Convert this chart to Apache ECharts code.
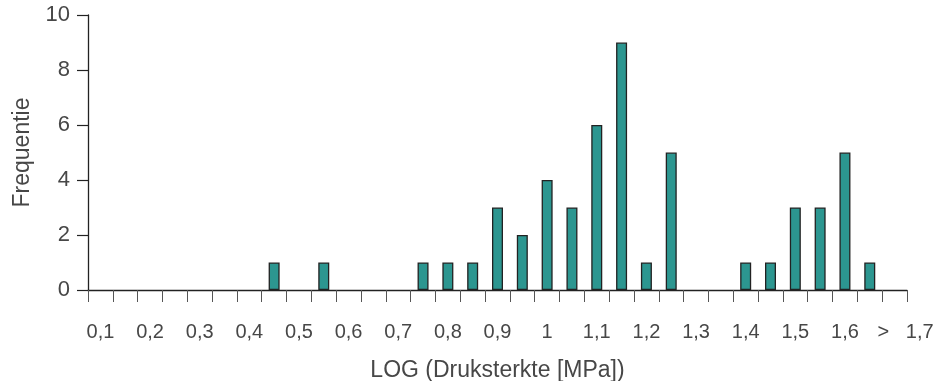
<!DOCTYPE html>
<html>
<head>
<meta charset="utf-8">
<script src="https://cdn.jsdelivr.net/npm/echarts@6/dist/echarts.min.js"></script>
<style>
    html, body { margin: 0; padding: 0; background: #fff; }
    #chart { width: 948px; height: 381px; }
</style>
</head>
<body>
<div id="chart"></div>
<script>
    // klassen van 0,05 (LOG druksterkte), laatste klasse is > 1,7
    var klassen = [
        '0,1','0,15','0,2','0,25','0,3','0,35','0,4','0,45','0,5','0,55','0,6',
        '0,65','0,7','0,75','0,8','0,85','0,9','0,95','1','1,05','1,1','1,15',
        '1,2','1,25','1,3','1,35','1,4','1,45','1,5','1,55','1,6','1,65','> 1,7'
    ];
    var frequentie = [
        0,0,0,0,0,0,0,1,0,1,0,
        0,0,1,1,1,3,2,4,3,6,9,
        1,5,0,0,1,1,3,3,5,1,0
    ];
    var yTicks = { min: 0, max: 10, interval: 2 };

    var fontFam = '"Liberation Sans", Arial, sans-serif';
    var txtColor = '#474747';
    var chart = echarts.init(document.getElementById('chart'), null, {
        renderer: 'canvas'
    });
    chart.setOption({
        animation: false,
        textStyle: {
            fontFamily: fontFam
        },
        grid: {
            left: 88,
            right: 41,
            top: 15,
            bottom: 91,
            outerBoundsMode: 'none'
        },
        xAxis: {
            type: 'category',
            data: klassen,
            name: 'LOG (Druksterkte [MPa])',
            nameLocation: 'middle',
            nameGap: 69,
            nameTextStyle: {
                fontSize: 23,
                color: txtColor,
                fontFamily: fontFam
            },
            axisLine: {
                lineStyle: { color: '#222', width: 1.3 }
            },
            axisTick: {
                show: true,
                interval: 0,
                length: 12,
                lineStyle: { color: '#555', width: 1 }
            },
            axisLabel: {
                interval: 1,
                margin: 32,
                fontSize: 20,
                color: txtColor,
                fontFamily: fontFam,
                formatter: function (v) {
                    if (v.charAt(0) === '>') {
                        return '{last|' + v.replace(' ', '   ') + '}';
                    }
                    return v;
                },
                rich: {
                    last: {
                        fontSize: 20,
                        color: txtColor,
                        fontFamily: fontFam,
                        padding: [0, 0, 0, 22]
                    }
                }
            },
            splitLine: { show: false }
        },
        yAxis: {
            type: 'value',
            min: yTicks.min,
            max: yTicks.max,
            interval: yTicks.interval,
            name: 'Frequentie',
            nameLocation: 'middle',
            nameGap: 53,
            nameTextStyle: {
                fontSize: 23,
                color: txtColor,
                fontFamily: fontFam
            },
            axisLine: {
                show: true,
                lineStyle: { color: '#222', width: 1.3 }
            },
            axisTick: {
                show: true,
                length: 11,
                lineStyle: { color: '#222', width: 1.2 }
            },
            axisLabel: {
                margin: 18,
                fontSize: 22,
                color: txtColor,
                fontFamily: fontFam
            },
            splitLine: { show: false }
        },
        series: [
            {
                name: 'Frequentie',
                type: 'bar',
                barWidth: 11,
                // lege klassen niet tekenen
                data: frequentie.map(function (v) { return v === 0 ? '-' : v; }),
                itemStyle: {
                    color: '#2c9690',
                    borderColor: '#222',
                    borderWidth: 1.3
                }
            }
        ]
    });
</script>
</body>
</html>
